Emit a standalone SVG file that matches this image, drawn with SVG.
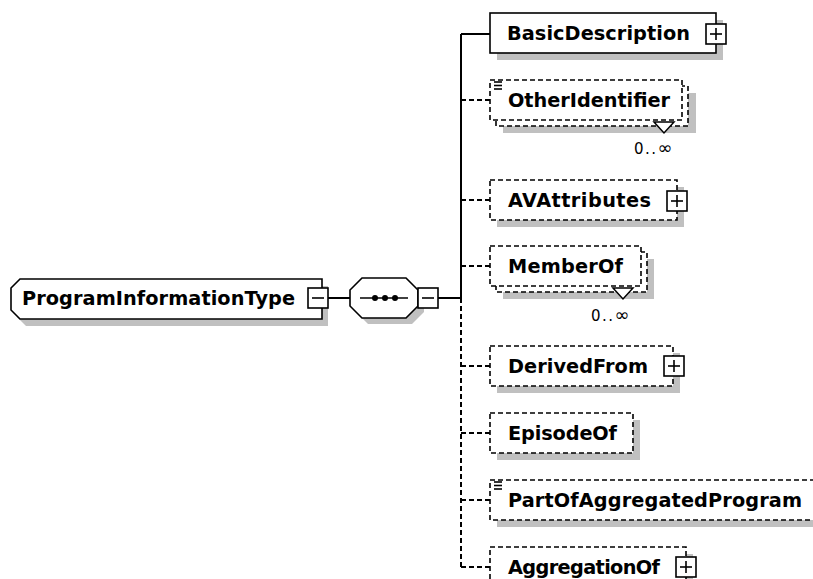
<svg xmlns="http://www.w3.org/2000/svg" width="813" height="579" viewBox="0 0 813 579">
<style>
.bg{fill:#fff}
.box{fill:#fff;stroke:#000;stroke-width:1.6}
.dash{stroke-dasharray:5 3}
.shadow{fill:#c0c0c0}
.lbl{font-family:"DejaVu Sans",Verdana,sans-serif;font-weight:bold;font-size:19.3px;fill:#000}
.occ{font-family:"DejaVu Sans",Verdana,sans-serif;font-size:15px;letter-spacing:1.5px;fill:#000}
.inf{font-size:18px}
.conn{stroke:#000;stroke-width:2;fill:none}
.sym{stroke:#000;stroke-width:1.6;fill:none}
.ctl{fill:#fff;stroke:#000;stroke-width:1.6}
</style>
<rect class="bg" x="0" y="0" width="813" height="579"/>

<g id="connectors">
  <line class="conn" x1="328" y1="298" x2="350" y2="298"/>
  <line class="conn" x1="438" y1="298" x2="461" y2="298"/>
  <line class="conn" x1="461" y1="34" x2="461" y2="298"/>
  <line class="conn dash" x1="461" y1="298" x2="461" y2="567"/>
  <line class="conn" x1="461" y1="34" x2="490" y2="34"/>
  <line class="conn dash" x1="461" y1="100" x2="490" y2="100"/>
  <line class="conn dash" x1="461" y1="200" x2="490" y2="200"/>
  <line class="conn dash" x1="461" y1="266" x2="490" y2="266"/>
  <line class="conn dash" x1="461" y1="366" x2="490" y2="366"/>
  <line class="conn dash" x1="461" y1="433" x2="490" y2="433"/>
  <line class="conn dash" x1="461" y1="500" x2="490" y2="500"/>
  <line class="conn dash" x1="461" y1="567" x2="490" y2="567"/>
</g>

<g id="ProgramInformationType">
  <path class="shadow" d="M17,295 L26,286 L328,286 L328,326 L26,326 L17,317 Z"/>
  <path class="box" d="M11,288 L20,279 L322,279 L322,319 L20,319 L11,310 Z"/>
  <text class="lbl" x="22" y="305" textLength="273">ProgramInformationType</text>
  <rect class="ctl" x="308" y="288" width="20" height="20"/>
  <line class="sym" x1="312" y1="298" x2="324" y2="298"/>
</g>

<g id="sequence">
  <path class="shadow" d="M368,284 L412,284 L424,296 L424,312 L412,324 L368,324 L356,312 L356,296 Z"/>
  <path class="box" d="M362,278 L406,278 L418,290 L418,306 L406,318 L362,318 L350,306 L350,290 Z"/>
  <line class="sym" x1="360" y1="298" x2="408" y2="298"/>
  <circle cx="375" cy="298" r="3" fill="#000"/>
  <circle cx="385" cy="298" r="3" fill="#000"/>
  <circle cx="395" cy="298" r="3" fill="#000"/>
  <rect class="ctl" x="418" y="288" width="20" height="20"/>
  <line class="sym" x1="422" y1="298" x2="434" y2="298"/>
</g>

<g id="BasicDescription">
  <rect class="shadow" x="497" y="20" width="226" height="40"/>
  <rect class="box" x="490" y="13" width="226" height="40"/>
  <text class="lbl" x="507" y="40" textLength="183">BasicDescription</text>
  <rect class="ctl" x="706" y="24" width="20" height="20"/>
  <line class="sym" x1="710" y1="34" x2="722" y2="34"/>
  <line class="sym" x1="716" y1="28" x2="716" y2="40"/>
</g>

<g id="OtherIdentifier">
  <rect class="shadow" x="503" y="93" width="193" height="40"/>
  <rect class="box dash" x="496" y="86" width="192" height="40"/>
  <rect class="box dash" x="490" y="80" width="192" height="40"/>
  <line class="sym" x1="494" y1="82" x2="502" y2="82"/>
  <line class="sym" x1="494" y1="85.5" x2="502" y2="85.5"/>
  <line class="sym" x1="494" y1="89" x2="502" y2="89"/>
  <text class="lbl" x="508" y="107" textLength="162">OtherIdentifier</text>
  <polygon points="654,122 664,133 674,122" fill="#fff" stroke="#000" stroke-width="1.5"/>
  <text class="occ" x="634" y="154">0..<tspan class="inf">∞</tspan></text>
</g>

<g id="AVAttributes">
  <rect class="shadow" x="497" y="187" width="187" height="40"/>
  <rect class="box dash" x="490" y="180" width="187" height="40"/>
  <text class="lbl" x="508" y="207" textLength="143">AVAttributes</text>
  <rect class="ctl" x="667" y="191" width="20" height="20"/>
  <line class="sym" x1="671" y1="201" x2="683" y2="201"/>
  <line class="sym" x1="677" y1="195" x2="677" y2="207"/>
</g>

<g id="MemberOf">
  <rect class="shadow" x="503" y="259" width="151" height="40"/>
  <rect class="box dash" x="496" y="252" width="151" height="40"/>
  <rect class="box dash" x="490" y="246" width="151" height="40"/>
  <text class="lbl" x="508" y="273" textLength="115">MemberOf</text>
  <polygon points="613,288 623,299 633,288" fill="#fff" stroke="#000" stroke-width="1.5"/>
  <text class="occ" x="591" y="321">0..<tspan class="inf">∞</tspan></text>
</g>

<g id="DerivedFrom">
  <rect class="shadow" x="497" y="353" width="183" height="40"/>
  <rect class="box dash" x="490" y="346" width="183" height="40"/>
  <text class="lbl" x="508" y="373" textLength="140">DerivedFrom</text>
  <rect class="ctl" x="664" y="356" width="20" height="20"/>
  <line class="sym" x1="668" y1="366" x2="680" y2="366"/>
  <line class="sym" x1="674" y1="360" x2="674" y2="372"/>
</g>

<g id="EpisodeOf">
  <rect class="shadow" x="497" y="420" width="143" height="40"/>
  <rect class="box dash" x="490" y="413" width="143" height="40"/>
  <text class="lbl" x="508" y="440" textLength="109">EpisodeOf</text>
</g>

<g id="PartOfAggregatedProgram">
  <rect class="shadow" x="497" y="487" width="340" height="40"/>
  <rect class="box dash" x="490" y="480" width="340" height="40"/>
  <line class="sym" x1="494" y1="482" x2="502" y2="482"/>
  <line class="sym" x1="494" y1="485.5" x2="502" y2="485.5"/>
  <line class="sym" x1="494" y1="489" x2="502" y2="489"/>
  <text class="lbl" x="508" y="507" textLength="294">PartOfAggregatedProgram</text>
</g>

<g id="AggregationOf">
  <rect class="shadow" x="497" y="554" width="196" height="40"/>
  <rect class="box dash" x="490" y="547" width="196" height="40"/>
  <text class="lbl" x="508" y="574" textLength="152">AggregationOf</text>
  <rect class="ctl" x="676" y="557" width="20" height="20"/>
  <line class="sym" x1="680" y1="567" x2="692" y2="567"/>
  <line class="sym" x1="686" y1="561" x2="686" y2="573"/>
</g>
</svg>
